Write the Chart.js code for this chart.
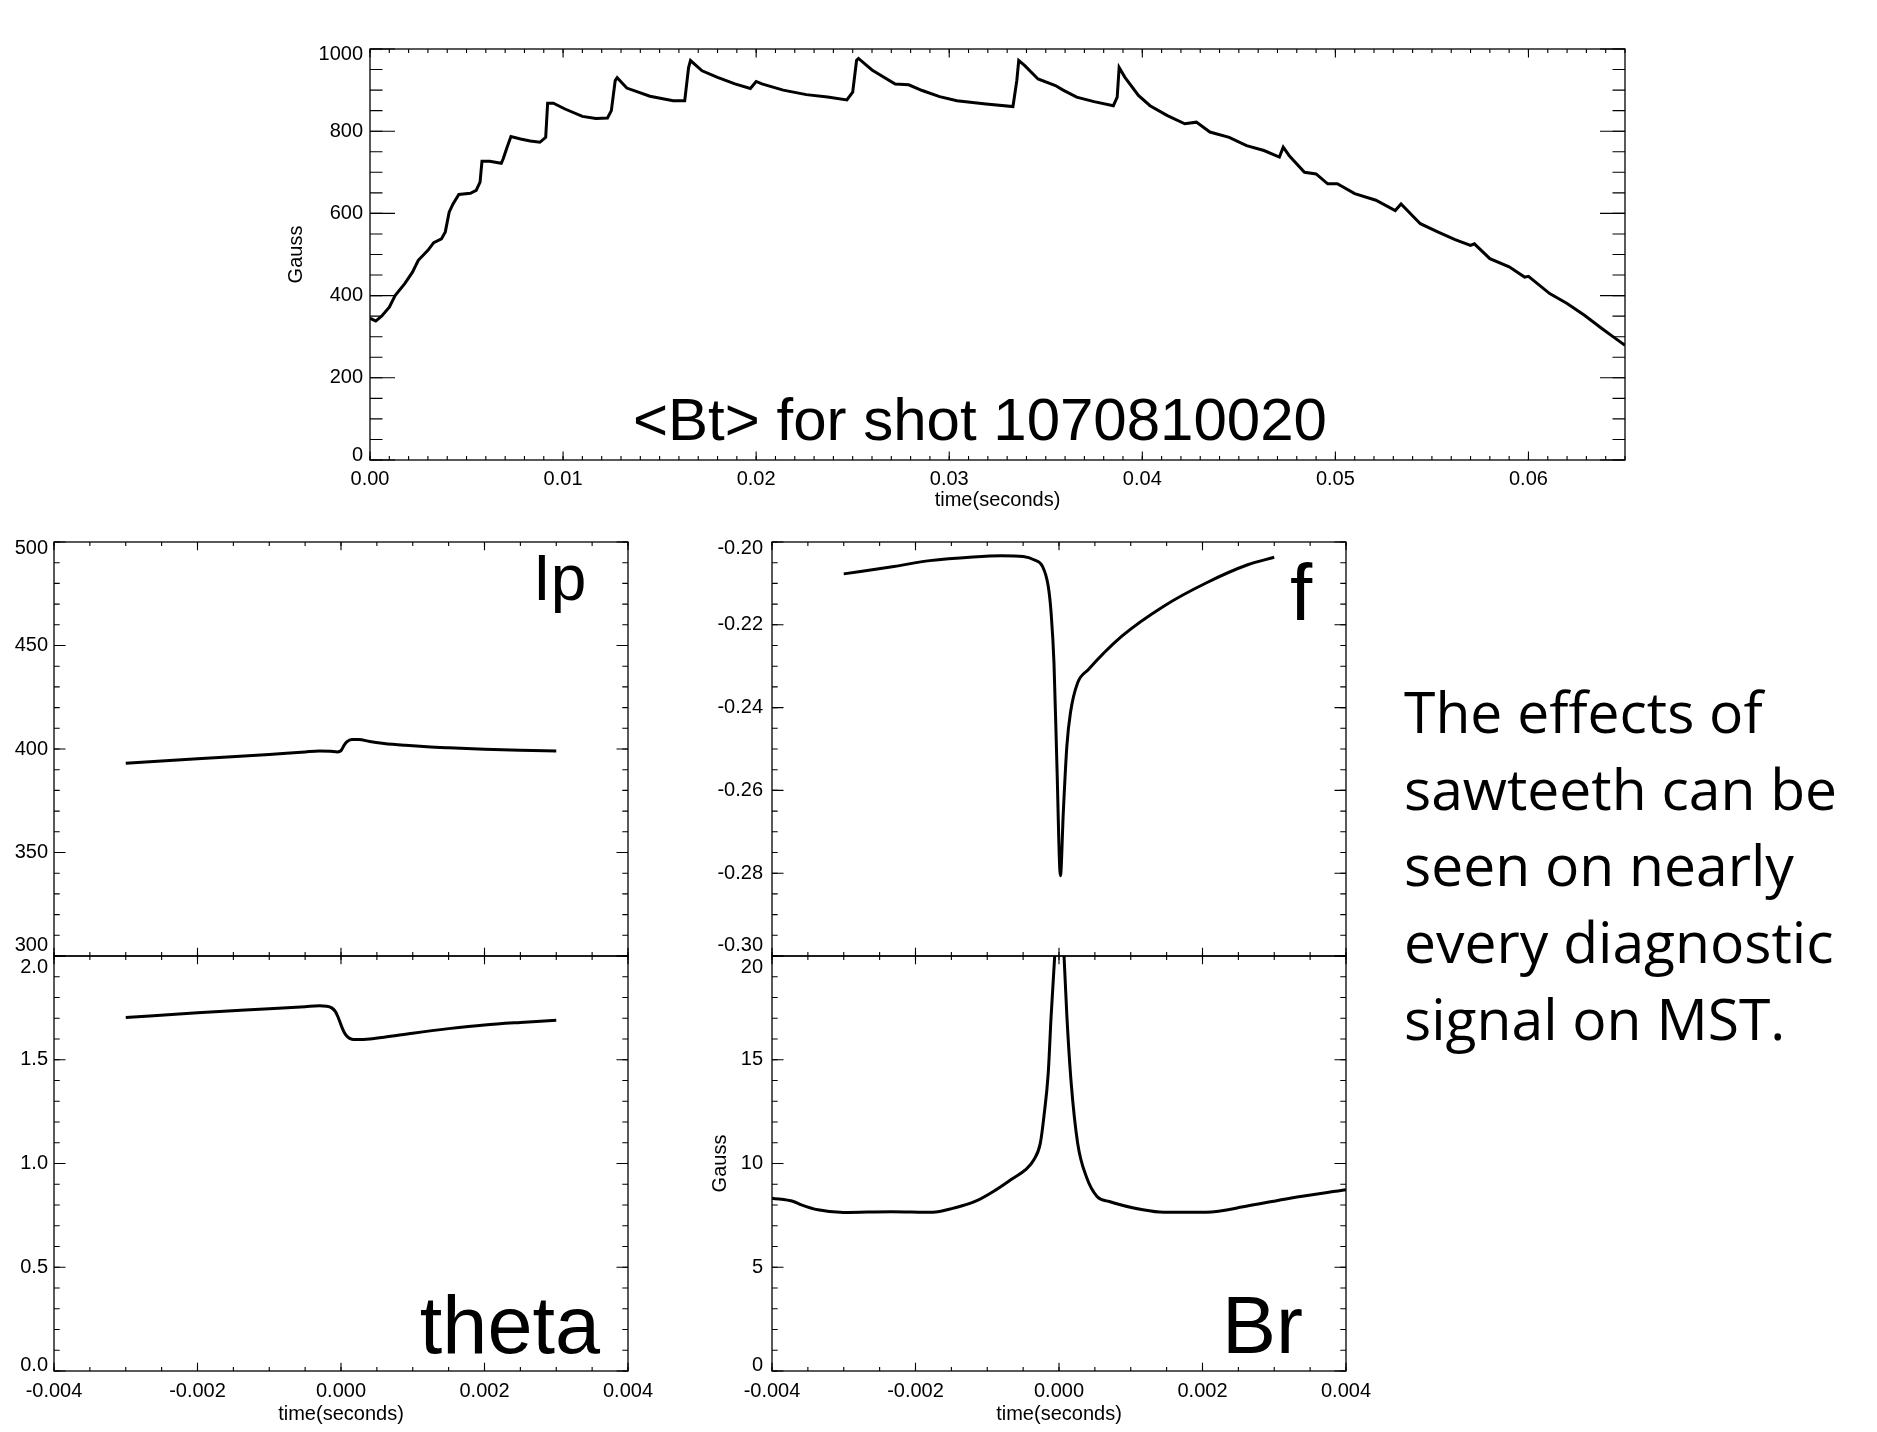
<!DOCTYPE html>
<html>
<head>
<meta charset="utf-8">
<title>Sawteeth on MST</title>
<script src="https://cdn.jsdelivr.net/npm/chart.js"></script>
<style>
    html, body { margin: 0; padding: 0; background: #fff; }
    body { width: 1877px; height: 1432px; position: relative; overflow: hidden; }
    canvas { position: absolute; }
    #note {
        position: absolute; left: 1404px; top: 673px;
        font-family: 'Open Sans', sans-serif; font-size: 57px; line-height: 76.7px;
        color: #000; white-space: nowrap;
    }
</style>
</head>
<body>
<canvas id="bt" width="1430" height="495" style="left:250px;top:20px"></canvas>
<canvas id="ip" width="680" height="500" style="left:0px;top:500px"></canvas>
<canvas id="theta" width="680" height="516" style="left:0px;top:916px"></canvas>
<canvas id="fpar" width="720" height="500" style="left:680px;top:500px"></canvas>
<canvas id="br" width="720" height="516" style="left:680px;top:916px"></canvas>
<div id="note">The effects of<br>sawteeth can be<br>seen on nearly<br>every diagnostic<br>signal on MST.</div>

<script>
// <Bt> for the whole shot
const btTime = [0.0000, 0.0003, 0.0006, 0.0010, 0.0013, 0.0018, 0.0022, 0.0025, 0.0030, 0.0033,
    0.0037, 0.0039, 0.0041, 0.0043, 0.0046, 0.0052, 0.0055, 0.0057, 0.0058, 0.0062,
    0.0068, 0.0069, 0.0071, 0.0073, 0.0078, 0.0083, 0.0088, 0.0091, 0.0092, 0.0095,
    0.0101, 0.0110, 0.0117, 0.0123, 0.0125, 0.0127, 0.0128, 0.0133, 0.0145, 0.0157,
    0.0163, 0.0165, 0.0166, 0.0172, 0.0180, 0.0189, 0.0197, 0.0200, 0.0203, 0.0214,
    0.0226, 0.0237, 0.0247, 0.0250, 0.0252, 0.0253, 0.0260, 0.0272, 0.0279, 0.0286,
    0.0295, 0.0304, 0.0319, 0.0333, 0.0335, 0.0336, 0.0339, 0.0346, 0.0355, 0.0359,
    0.0366, 0.0375, 0.0385, 0.0387, 0.0388, 0.0391, 0.0398, 0.0404, 0.0413, 0.0422,
    0.0428, 0.0435, 0.0445, 0.0454, 0.0463, 0.0471, 0.0473, 0.0476, 0.0484, 0.0490,
    0.0496, 0.0501, 0.0510, 0.0521, 0.0531, 0.0534, 0.0544, 0.0553, 0.0562, 0.0570,
    0.0572, 0.0580, 0.0590, 0.0598, 0.0600, 0.0611, 0.0620, 0.0629, 0.0638, 0.0645, 0.0650];
const btGauss = [345, 338, 350, 372, 400, 429, 457, 486, 510, 529,
    538, 555, 603, 623, 646, 649, 656, 676, 727, 727,
    722, 733, 761, 787, 781, 776, 773, 785, 868, 868,
    854, 836, 831, 832, 850, 923, 930, 905, 885, 874,
    874, 955, 972, 947, 931, 915, 904, 921, 915, 900,
    889, 883, 876, 895, 972, 977, 949, 915, 913, 899,
    884, 874, 866, 860, 923, 972, 960, 927, 911, 900,
    883, 872, 862, 883, 955, 931, 887, 862, 838, 818,
    822, 798, 785, 765, 753, 737, 761, 741, 700, 696,
    672, 672, 648, 632, 607, 623, 575, 555, 536, 522,
    526, 490, 470, 445, 447, 405, 381, 352, 320, 296, 279];

// plasma current around a sawtooth crash
const ipTime = [-0.0030, -0.0020, -0.0010, -0.0005, -0.0003, -0.00015, -0.00005, 0.0, 0.00004, 0.00008,
    0.00015, 0.00025, 0.0004, 0.0006, 0.0009, 0.0012, 0.0015, 0.0020, 0.0025, 0.0030];
const ipVal = [393.1, 395.3, 397.4, 398.6, 399.0, 398.9, 398.6, 399.2, 401.6, 403.4,
    404.6, 404.6, 403.6, 402.7, 401.8, 401.1, 400.6, 399.9, 399.4, 399.0];

// pinch parameter theta
const thetaTime = [-0.0030, -0.0020, -0.0010, -0.0005, -0.0003, -0.0002, -0.00013, -0.00008, -0.00004, 0.0,
    0.00004, 0.00008, 0.00012, 0.00017, 0.00025, 0.0004, 0.0006, 0.0010, 0.0015, 0.0020,
    0.0025, 0.0030];
const thetaVal = [1.704, 1.726, 1.746, 1.756, 1.760, 1.758, 1.750, 1.733, 1.705, 1.668,
    1.635, 1.614, 1.603, 1.598, 1.597, 1.600, 1.608, 1.628, 1.650, 1.668,
    1.680, 1.690];

// reversal parameter f
const fTime = [-0.0030, -0.0023, -0.0018, -0.0012, -0.0008, -0.0005, -0.00035, -0.00023, -0.00015, -0.00011,
    -0.00007, -0.00003, 0.00002, 0.00006, 0.00011, 0.00016, 0.00026, 0.00041, 0.00088, 0.00146,
    0.00205, 0.00263, 0.0030];
const fVal = [-0.2077, -0.2059, -0.2045, -0.2036, -0.2033, -0.2035, -0.2043, -0.2059, -0.2107, -0.2171,
    -0.2292, -0.2533, -0.2806, -0.2653, -0.2492, -0.2412, -0.2340, -0.2308, -0.2227, -0.2155,
    -0.2099, -0.2055, -0.2037];

// edge Br fluctuation amplitude (Gauss)
const brTime = [-0.0040, -0.0037, -0.00359, -0.00336, -0.0030, -0.00234, -0.00176, -0.00147, -0.00117, -0.00088,
    -0.00064, -0.00047, -0.00035, -0.00026, -0.00021, -0.00015, -0.00011, -0.00006, 0.00001, 0.00007,
    0.00011, 0.00017, 0.00026, 0.00038, 0.00053, 0.0007, 0.00117, 0.00146, 0.00205, 0.00264,
    0.00322, 0.0040];
const brVal = [8.33, 8.17, 8.01, 7.77, 7.64, 7.68, 7.65, 7.85, 8.17, 8.73,
    9.29, 9.69, 10.18, 10.98, 12.27, 14.36, 17.09, 20.0, 25.0, 20.0,
    17.09, 13.87, 10.98, 9.37, 8.41, 8.17, 7.77, 7.65, 7.65, 7.96,
    8.33, 8.73];

// tick labels
const btTimeTicks = [0, 0.01, 0.02, 0.03, 0.04, 0.05, 0.06];
const btGaussTicks = [0, 200, 400, 600, 800, 1000];
const crashTimeTicks = [-0.004, -0.002, 0, 0.002, 0.004];
const ipTicks = [300, 350, 400, 450, 500];
const thetaTicks = [0, 0.5, 1.0, 1.5, 2.0];
const fTicks = [-0.30, -0.28, -0.26, -0.24, -0.22, -0.20];
const brTicks = [0, 5, 10, 15, 20];

const FONT = "'Liberation Sans', Arial, Helvetica, sans-serif";
Chart.defaults.color = '#000';
Chart.defaults.font.family = FONT;

// IDL style box: frame plus inward major/minor ticks on all four sides
const idlFrame = {
    id: 'idlFrame',
    afterDraw(chart, args, opts) {
        const { ctx, chartArea: a } = chart;
        const xs = chart.scales.x, ys = chart.scales.y;
        ctx.save();
        ctx.strokeStyle = '#000';
        ctx.lineWidth = 1.3;
        ctx.strokeRect(a.left, a.top, a.right - a.left, a.bottom - a.top);

        ctx.lineWidth = 1.1;
        const steps = (min, max, step) => {
            const out = [];
            for (let k = Math.ceil(min / step - 1e-6); k * step <= max + step * 1e-6; k++) out.push(k * step);
            return out;
        };
        const xMarks = (vals, len) => vals.forEach(v => {
            const px = xs.getPixelForValue(v);
            ctx.beginPath();
            ctx.moveTo(px, a.bottom); ctx.lineTo(px, a.bottom - len);
            ctx.moveTo(px, a.top); ctx.lineTo(px, a.top + len);
            ctx.stroke();
        });
        const yMarks = (vals, len) => vals.forEach(v => {
            const py = ys.getPixelForValue(v);
            ctx.beginPath();
            ctx.moveTo(a.left, py); ctx.lineTo(a.left + len, py);
            ctx.moveTo(a.right, py); ctx.lineTo(a.right - len, py);
            ctx.stroke();
        });
        xMarks(steps(xs.min, xs.max, opts.xMinor), opts.xLen[1]);
        xMarks(opts.xMajor, opts.xLen[0]);
        yMarks(steps(ys.min, ys.max, opts.yMinor), opts.yLen[1]);
        yMarks(opts.yMajor, opts.yLen[0]);

        ctx.fillStyle = '#000';
        ctx.textBaseline = 'alphabetic';
        (opts.labels || []).forEach(l => {
            ctx.font = l.size + 'px ' + FONT;
            ctx.textAlign = l.align;
            ctx.fillText(l.text, a.left + l.x, a.top + l.y);
        });
        ctx.restore();
    }
};

function xAxis(o) {
    return {
        type: 'linear', position: 'bottom', display: o.show,
        min: o.min, max: o.max,
        grid: { display: false, drawTicks: false },
        border: { display: false },
        afterBuildTicks: s => { s.ticks = o.ticks.map(v => ({ value: v })); },
        afterFit: s => { s.height = o.height; },
        ticks: {
            padding: o.pad, autoSkip: false, maxRotation: 0, color: '#000',
            font: { family: FONT, size: 20 },
            callback: v => v.toFixed(o.digits)
        },
        title: {
            display: true, text: 'time(seconds)', color: '#000',
            font: { family: FONT, size: 20 },
            padding: { top: 0, bottom: o.titlePad }
        }
    };
}

function yAxis(o) {
    const min = o.ticks[0], max = o.ticks[o.ticks.length - 1];
    return {
        type: 'linear', position: 'left',
        min: min, max: max,
        grid: { display: false, drawTicks: false },
        border: { display: false },
        afterBuildTicks: s => { s.ticks = o.ticks.map(v => ({ value: v })); },
        afterFit: s => { s.width = o.width; },
        ticks: {
            padding: o.pad, autoSkip: false, color: '#000',
            // end labels are nudged into the box, like IDL does
            font: c => {
                const v = c.tick ? c.tick.value : null;
                const lh = v === min ? o.lhMin : (v === max ? o.lhMax : 24);
                return { family: FONT, size: 20, lineHeight: lh + 'px' };
            },
            callback: v => {
                const s = v.toFixed(o.digits);
                if (v === min) return [s, ''];
                if (v === max) return ['', s];
                return s;
            }
        },
        title: o.title ? {
            display: true, text: o.title, color: '#000',
            font: { family: FONT, size: 20 },
            padding: { top: o.titlePad, bottom: 0 }
        } : { display: false }
    };
}

function panel(id, times, vals, xa, ya, frame, pad, smooth) {
    return new Chart(document.getElementById(id), {
        type: 'line',
        data: {
            datasets: [{
                data: times.map((t, i) => ({ x: t, y: vals[i] })),
                borderColor: '#000',
                borderWidth: 3,
                pointRadius: 0,
                fill: false,
                tension: 0,
                cubicInterpolationMode: smooth ? 'monotone' : 'default',
                clip: 0
            }]
        },
        options: {
            responsive: false,
            animation: false,
            devicePixelRatio: 1,
            layout: { padding: pad },
            plugins: {
                legend: { display: false },
                tooltip: { enabled: false },
                idlFrame: frame
            },
            scales: { x: xa, y: ya }
        },
        plugins: [idlFrame]
    });
}

// top: <Bt> over the shot
panel('bt', btTime, btGauss,
    xAxis({ show: true, min: 0, max: 0.065, ticks: btTimeTicks, digits: 2, height: 55, pad: 7, titlePad: 3 }),
    yAxis({ ticks: btGaussTicks, digits: 0, width: 120, pad: 7, lhMin: 10, lhMax: 10, title: 'Gauss', titlePad: 34 }),
    { xMajor: btTimeTicks, xMinor: 0.001, yMajor: btGaussTicks, yMinor: 50, xLen: [8.5, 4], yLen: [25, 12.5],
      labels: [{ text: '<Bt> for shot 1070810020', x: 610, y: 391, size: 60, align: 'center' }] },
    { left: 0, top: 29, right: 55, bottom: 0 }, false);

// left column: Ip and theta
panel('ip', ipTime, ipVal,
    xAxis({ show: false, min: -0.004, max: 0.004, ticks: crashTimeTicks, digits: 3, height: 0, pad: 0, titlePad: 0 }),
    yAxis({ ticks: ipTicks, digits: 0, width: 54, pad: 6, lhMin: 22, lhMax: 12 }),
    { xMajor: crashTimeTicks, xMinor: 0.0005, yMajor: ipTicks, yMinor: 10, xLen: [8.3, 4], yLen: [11.5, 5.7],
      labels: [{ text: 'Ip', x: 479, y: 58, size: 64, align: 'left' }] },
    { left: 0, top: 42, right: 52, bottom: 44 }, true);

panel('theta', thetaTime, thetaVal,
    xAxis({ show: true, min: -0.004, max: 0.004, ticks: crashTimeTicks, digits: 3, height: 61, pad: 8, titlePad: 6 }),
    yAxis({ ticks: thetaTicks, digits: 1, width: 54, pad: 6, lhMin: 12, lhMax: 22 }),
    { xMajor: crashTimeTicks, xMinor: 0.0005, yMajor: thetaTicks, yMinor: 0.1, xLen: [8.3, 4], yLen: [11.5, 5.7],
      labels: [{ text: 'theta', x: 546, y: 397, size: 81, align: 'right' }] },
    { left: 0, top: 40, right: 52, bottom: 0 }, true);

// right column: f and Br
panel('fpar', fTime, fVal,
    xAxis({ show: false, min: -0.004, max: 0.004, ticks: crashTimeTicks, digits: 3, height: 0, pad: 0, titlePad: 0 }),
    yAxis({ ticks: fTicks, digits: 2, width: 92, pad: 9, lhMin: 22, lhMax: 12 }),
    { xMajor: crashTimeTicks, xMinor: 0.0005, yMajor: fTicks, yMinor: 0.005, xLen: [8.3, 4], yLen: [11.5, 5.7],
      labels: [{ text: 'f', x: 518, y: 78, size: 80, align: 'left' }] },
    { left: 0, top: 42, right: 54, bottom: 44 }, true);

panel('br', brTime, brVal,
    xAxis({ show: true, min: -0.004, max: 0.004, ticks: crashTimeTicks, digits: 3, height: 61, pad: 8, titlePad: 6 }),
    yAxis({ ticks: brTicks, digits: 0, width: 92, pad: 9, lhMin: 12, lhMax: 22, title: 'Gauss', titlePad: 28 }),
    { xMajor: crashTimeTicks, xMinor: 0.0005, yMajor: brTicks, yMinor: 1, xLen: [8.3, 4], yLen: [11.5, 5.7],
      labels: [{ text: 'Br', x: 450, y: 397, size: 81, align: 'left' }] },
    { left: 0, top: 40, right: 54, bottom: 0 }, true);
</script>
</body>
</html>
